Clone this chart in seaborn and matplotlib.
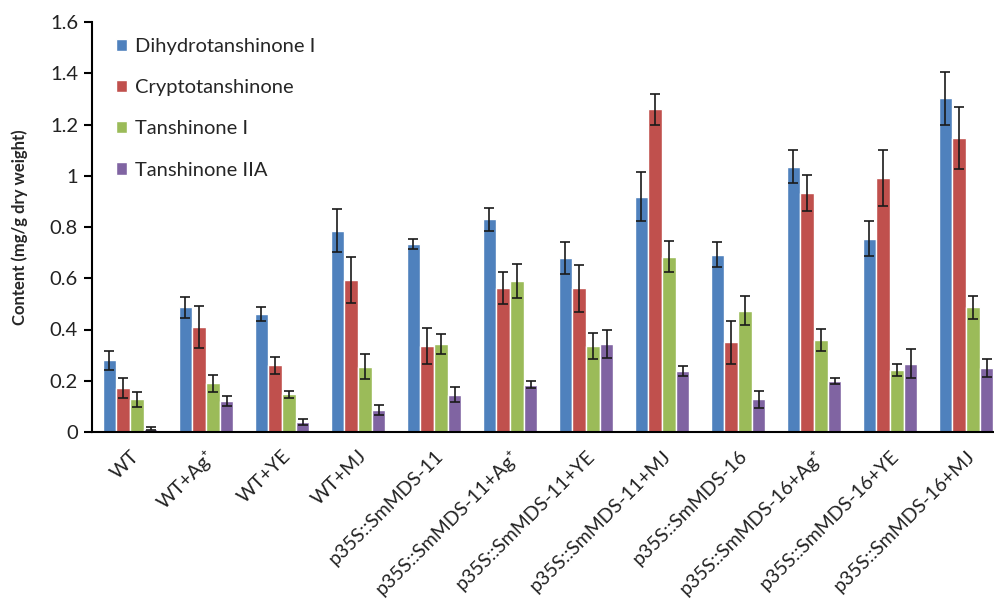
import numpy as np
import pandas as pd
import matplotlib
matplotlib.use("Agg")
import matplotlib.pyplot as plt
import seaborn as sns

groups = ["WT", "WT+Ag⁺", "WT+YE", "WT+MJ",
          "p35S::SmMDS-11", "p35S::SmMDS-11+Ag⁺", "p35S::SmMDS-11+YE", "p35S::SmMDS-11+MJ",
          "p35S::SmMDS-16", "p35S::SmMDS-16+Ag⁺", "p35S::SmMDS-16+YE", "p35S::SmMDS-16+MJ"]
compounds = ["Dihydrotanshinone I", "Cryptotanshinone", "Tanshinone I", "Tanshinone IIA"]

dihydro = [0.28, 0.486, 0.46, 0.786, 0.733, 0.83, 0.678, 0.919, 0.691, 1.036, 0.755, 1.302]
dihydro_err = [0.038, 0.04, 0.027, 0.083, 0.02, 0.045, 0.062, 0.096, 0.049, 0.066, 0.07, 0.104]
crypto = [0.171, 0.41, 0.26, 0.593, 0.335, 0.562, 0.561, 1.259, 0.35, 0.932, 0.991, 1.147]
crypto_err = [0.04, 0.083, 0.034, 0.09, 0.07, 0.061, 0.092, 0.059, 0.085, 0.07, 0.108, 0.12]
tan1 = [0.128, 0.19, 0.147, 0.255, 0.344, 0.59, 0.335, 0.684, 0.474, 0.359, 0.241, 0.486]
tan1_err = [0.03, 0.034, 0.013, 0.05, 0.04, 0.066, 0.05, 0.061, 0.057, 0.042, 0.024, 0.046]
tan2a = [0.013, 0.12, 0.039, 0.086, 0.145, 0.185, 0.343, 0.237, 0.128, 0.199, 0.267, 0.25]
tan2a_err = [0.006, 0.02, 0.012, 0.02, 0.029, 0.014, 0.055, 0.02, 0.033, 0.013, 0.055, 0.034]

y_ticks = [0, 0.2, 0.4, 0.6, 0.8, 1.0, 1.2, 1.4, 1.6]
y_ticklabels = ["0", "0.2", "0.4", "0.6", "0.8", "1", "1.2", "1.4", "1.6"]

colors = ["#4F81BD", "#C0504D", "#9BBB59", "#8064A2"]

values = [dihydro, crypto, tan1, tan2a]
errors = [dihydro_err, crypto_err, tan1_err, tan2a_err]

rows = []
for c, vals in zip(compounds, values):
    for g, v in zip(groups, vals):
        rows.append({"group": g, "compound": c, "value": v})
df = pd.DataFrame(rows)

sns.set_style("white")
plt.rcParams["font.family"] = ["Lato", "DejaVu Sans"]

fig = plt.figure(figsize=(9.94, 6.08), dpi=100)
ax = fig.add_axes([92 / 994, (608 - 432) / 608, 912 / 994, 410 / 608])

sns.barplot(data=df, x="group", y="value", hue="compound", order=groups,
            hue_order=compounds, palette=colors, width=0.72, gap=0,
            errorbar=None, saturation=1, ax=ax, legend=True)

for cont, errs in zip(ax.containers, errors):
    xs = [p.get_x() + p.get_width() / 2 for p in cont.patches]
    hs = [p.get_height() for p in cont.patches]
    ax.errorbar(xs, hs, yerr=errs, fmt="none", ecolor="#1a1a1a",
                elinewidth=1.2, capsize=3.8, capthick=1.2)

ax.set_xlim(-0.5, len(groups) - 0.5)
ax.set_ylim(0, 1.6)
ax.set_yticks(y_ticks)
ax.set_yticklabels(y_ticklabels, fontsize=14.5, color="#222222")
ax.set_xlabel("")
ax.set_ylabel("Content (mg/g dry weight)", fontsize=12, fontweight="bold", labelpad=16)

ax.set_xticks(np.arange(len(groups)))
ax.set_xticklabels(groups, rotation=45, ha="right", rotation_mode="anchor",
                   fontsize=14, color="#222222")
ax.tick_params(axis="x", which="major", length=0, pad=11)
ax.set_xticks(np.arange(len(groups) + 1) - 0.5, minor=True)
ax.tick_params(axis="x", which="minor", length=6, width=1.5, direction="out", color="black")
ax.tick_params(axis="y", length=6, width=1.5, direction="out", color="black", left=True, pad=4)

for s in ["top", "right"]:
    ax.spines[s].set_visible(False)
for s in ["left", "bottom"]:
    ax.spines[s].set_color("black")
    ax.spines[s].set_linewidth(1.5)

leg = ax.legend(loc="upper left", bbox_to_anchor=(0.006, 1.005), frameon=False,
                fontsize=14.5, handlelength=0.55, handleheight=0.55,
                handletextpad=0.4, labelspacing=1.2)

fig.savefig("out.png", dpi=100)
